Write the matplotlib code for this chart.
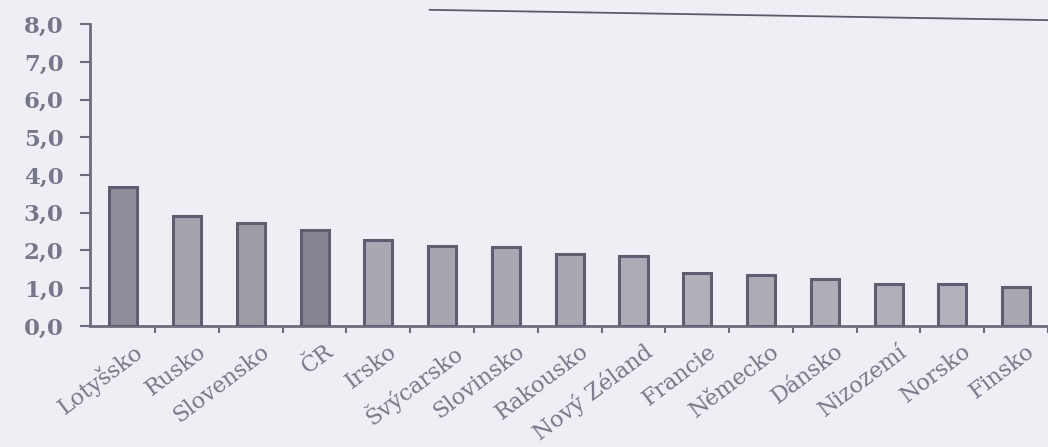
import matplotlib
matplotlib.use("Agg")
import matplotlib.pyplot as plt
from matplotlib.lines import Line2D
from matplotlib.ticker import FuncFormatter

# data
zeme = ["Lotyšsko", "Rusko", "Slovensko", "ČR", "Irsko", "Švýcarsko", "Slovinsko",
        "Rakousko", "Nový Zéland", "Francie", "Německo", "Dánsko", "Nizozemí",
        "Norsko", "Finsko"]
hodnoty = [3.67, 2.91, 2.72, 2.54, 2.27, 2.13, 2.09, 1.90, 1.84, 1.40, 1.35,
           1.23, 1.12, 1.10, 1.02]
y_ticks = [0, 1, 2, 3, 4, 5, 6, 7, 8]

# fill colour per bar (the scan shows Lotyšsko and ČR darker)
barvy = ["#8e8e9a", "#a4a4ae", "#9c9ca6", "#868692", "#a8a8b2", "#a6a6b0",
         "#a8a8b2", "#a8a8b2", "#acacb6", "#b0b0ba", "#acacb6", "#aeaeb8",
         "#b0b0ba", "#b2b2bc", "#a8a8b2"]

TEXT_C = "#77778a"
AXIS_C = "#6c6c7c"

fig = plt.figure(figsize=(10.48, 4.47), dpi=100)
fig.patch.set_facecolor("#eeeef4")
ax = fig.add_axes([0.086, 0.271, 0.914, 0.675])
ax.set_facecolor("none")

x = range(len(zeme))
ax.bar(x, hodnoty, width=0.44, color=barvy, edgecolor="#5e5e70", linewidth=2.2, zorder=3)

ax.set_ylim(0, 8)
ax.set_xlim(-0.52, len(zeme) - 0.55)
ax.set_yticks(y_ticks)
ax.yaxis.set_major_formatter(FuncFormatter(lambda v, p: f"{v:.1f}".replace(".", ",")))
ax.tick_params(axis="y", direction="out", length=7, width=1.5, color=AXIS_C,
               labelsize=16.5, labelcolor=TEXT_C, pad=12)
for lab in ax.get_yticklabels():
    lab.set_fontfamily("DejaVu Serif")
    lab.set_fontweight("bold")

# category ticks sit between the bars
ax.set_xticks([i + 0.5 for i in range(len(zeme))])
ax.set_xticklabels([])
ax.tick_params(axis="x", direction="out", length=5, width=1.5, color=AXIS_C)
for i, nazev in enumerate(zeme):
    ax.text(i + 0.15, -0.38, nazev, rotation=37, ha="right", va="top",
            rotation_mode="anchor", fontsize=16, color=TEXT_C,
            family="DejaVu Serif")

for s in ["top", "right"]:
    ax.spines[s].set_visible(False)
for s in ["left", "bottom"]:
    ax.spines[s].set_color(AXIS_C)
    ax.spines[s].set_linewidth(2)

# frame edge of the printed page at the top
fig.add_artist(Line2D([0.41, 1.0], [0.978, 0.955], color="#5a5a6a", linewidth=1.3))

fig.savefig("out.png", dpi=100, facecolor=fig.get_facecolor())
